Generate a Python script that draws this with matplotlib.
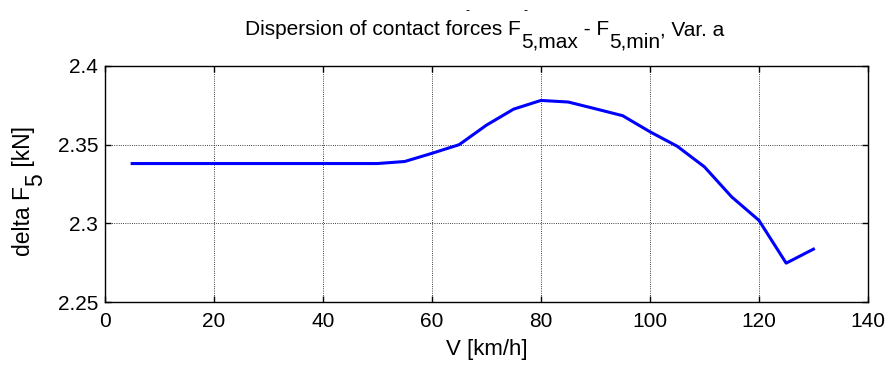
import matplotlib.pyplot as plt
from matplotlib.transforms import IdentityTransform

plt.rcParams['font.family'] = ['Liberation Sans', 'DejaVu Sans']

# speed [km/h] and dispersion of contact force [kN]
speed = [5, 10, 15, 20, 25, 30, 35, 40, 45, 50, 55, 60, 65,
         70, 75, 80, 85, 90, 95, 100, 105, 110, 115, 120, 125, 130]
delta_f5 = [2.338, 2.338, 2.338, 2.338, 2.338, 2.338, 2.338, 2.338, 2.338, 2.338,
            2.3393, 2.3445, 2.350, 2.3624, 2.3726, 2.3781, 2.3771, 2.3728,
            2.3684, 2.3582, 2.349, 2.3359, 2.3168, 2.3019, 2.2747, 2.2836]

x_ticks = [0, 20, 40, 60, 80, 100, 120, 140]
y_ticks = [2.25, 2.3, 2.35, 2.4]
y_tick_labels = ['2.25', '2.3', '2.35', '2.4']

# (text, lowered as subscript?)
title_parts = [('Dispersion of contact forces F', False), ('5,max', True),
               (' - F', False), ('5,min', True), (', Var. a', False)]
ylabel_parts = [('delta F', False), ('5', True), (' [kN]', False)]

fig = plt.figure(figsize=(8.91, 3.68), dpi=100)
ax = fig.add_axes([0.1178, 0.1793, 0.8563, 0.6414])

ax.plot(speed, delta_f5, color='#0000ff', linewidth=2.2)

ax.set_xlim(0, 140)
ax.set_ylim(2.25, 2.4)
ax.set_xticks(x_ticks)
ax.set_yticks(y_ticks)
ax.set_yticklabels(y_tick_labels)
ax.tick_params(direction='in', top=True, right=True, labelsize=15, length=4, width=1)
ax.tick_params(axis='x', pad=7)
ax.tick_params(axis='y', pad=5)
ax.grid(True, color='black', linestyle=':', linewidth=0.6)
for s in ax.spines.values():
    s.set_linewidth(1)

ax.set_xlabel('V [km/h]', fontsize=16, labelpad=6)

renderer = fig.canvas.get_renderer()
px = IdentityTransform()
H = 368


def chain(parts, x0, y0, size, sub_drop, vertical=False):
    # lay pieces next to each other in pixel coords, subscripts full size but lowered
    texts = []
    pos = y0 if vertical else x0
    for s, sub in parts:
        if vertical:
            t = fig.text(x0 + (sub_drop if sub else 0), pos, s, fontsize=size, rotation=90,
                         rotation_mode='anchor', ha='left', va='baseline', transform=px)
            pos = t.get_window_extent(renderer).y1
        else:
            t = fig.text(pos, y0 - (sub_drop if sub else 0), s, fontsize=size,
                         ha='left', va='baseline', transform=px)
            pos = t.get_window_extent(renderer).x1
        texts.append(t)
    return texts, pos


# title, centred over the axes
title_texts, end = chain(title_parts, 0, H - 35, 15, 12)
shift = 485 - end / 2
for t in title_texts:
    x, y = t.get_position()
    t.set_position((x + shift, y))

# y label, read bottom to top
ylab_texts, top = chain(ylabel_parts, 30, 0, 16.5, 12, vertical=True)
shift = (H - 191) - top / 2
for t in ylab_texts:
    x, y = t.get_position()
    t.set_position((x, y + shift))

# small stray marks above the title in the original
fig.text(468, H - 14, '-', fontsize=9, ha='center', va='baseline', transform=px)
fig.text(525, H - 14, '-', fontsize=9, ha='center', va='baseline', transform=px)

fig.savefig('out.png', dpi=100)
